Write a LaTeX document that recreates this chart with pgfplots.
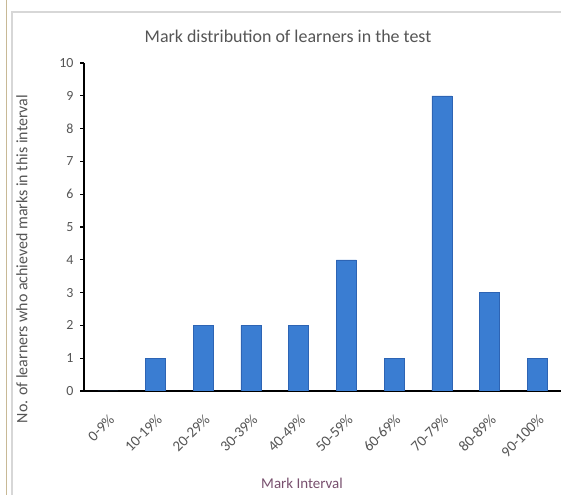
\documentclass[border=0pt]{standalone}
\usepackage{pgfplots}
\pgfplotsset{compat=1.18}
\usepackage{fontspec}
\setmainfont{Carlito}
\definecolor{barblue}{RGB}{58,125,210}
\definecolor{bardark}{RGB}{45,100,180}
\definecolor{txt}{RGB}{85,85,85}
\definecolor{xlab}{RGB}{120,80,110}
\newcommand{\tl}{\fontsize{15}{17}\selectfont}
\newcommand{\yl}{\fontsize{14}{16}\selectfont}
\begin{document}
\begin{tikzpicture}[x=1bp,y=1bp]
\useasboundingbox (0,0) rectangle (561,495);
\fill[white] (0,0) rectangle (561,495);
\draw[color={rgb,255:red,200;green,185;blue,150},line width=1.5bp] (6.5,0) -- (6.5,495);
\draw[color={rgb,255:red,215;green,215;blue,215},line width=2bp] (12,0) -- (12,483) -- (561,483);
\node[txt,font=\fontsize{18}{20}\selectfont] at (288,459) {Mark distribution of learners in the test};
\node[txt,rotate=90,font=\fontsize{16}{18}\selectfont] at (22,236) {No. of learners who achieved marks in this interval};
\node[xlab,font=\fontsize{15}{17}\selectfont] at (302,12) {Mark Interval};
\begin{axis}[
  at={(84bp,104bp)}, anchor=south west,
  scale only axis, width=477bp, height=328bp,
  xmin=-0.5, xmax=9.5, ymin=0, ymax=10,
  axis x line*=bottom, axis y line*=left,
  axis line style={black, line width=1.3bp},
  xtick={0,...,9},
  xticklabels={{\tl 0-9\%},{\tl 10-19\%},{\tl 20-29\%},{\tl 30-39\%},{\tl 40-49\%},{\tl 50-59\%},{\tl 60-69\%},{\tl 70-79\%},{\tl 80-89\%},{\tl 90-100\%}},
  xticklabel style={xshift=4bp, yshift=-22bp, rotate=45, anchor=east, text=txt, inner sep=0pt},
  extra x ticks={-0.5,0.5,1.5,2.5,3.5,4.5,5.5,6.5,7.5,8.5},
  extra x tick labels={},
  extra x tick style={major tick length=5bp, tick style={black, line width=1.2bp}, tick align=outside},
  major x tick style={draw=none},
  ytick={0,...,10},
  yticklabel={\yl\pgfmathprintnumber{\tick}},
  yticklabel style={text=txt, font=\yl, xshift=-3bp},
  /pgf/number format/assume math mode=true,
  major tick length=4bp,
  tick align=outside,
  y tick style={black, line width=1.2bp},
  ybar, bar width=20bp,
]
\addplot[draw=bardark, fill=barblue] coordinates {
(0,0) (1,1) (2,2) (3,2) (4,2) (5,4) (6,1) (7,9) (8,3) (9,1)};
\end{axis}
\end{tikzpicture}
\end{document}
